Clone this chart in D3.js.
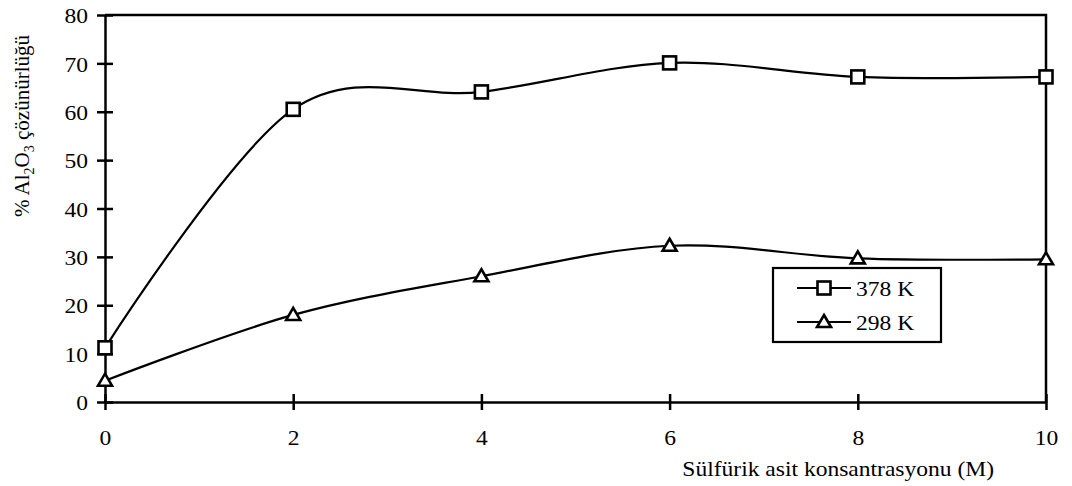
<!DOCTYPE html>
<html>
<head>
<meta charset="utf-8">
<script src="https://cdn.jsdelivr.net/npm/d3@7"></script>
<style>
  html, body { margin: 0; padding: 0; background: #fff; }
  svg text { font-family: "Liberation Serif", serif; fill: #000; }
</style>
</head>
<body>
<svg id="chart" width="1072" height="486" font-family="Liberation Serif"></svg>
<script>
const xValues = [0, 2, 4, 6, 8, 10];
const series378 = [11.2, 60.5, 64.1, 70.1, 67.2, 67.2];
const series298 = [4.4, 18.0, 26.0, 32.3, 29.7, 29.5];
const seriesNames = ["378 K", "298 K"];
const xTicks = [0, 2, 4, 6, 8, 10];
const yTicks = [0, 10, 20, 30, 40, 50, 60, 70, 80];
const xTitle = "Sülfürik asit konsantrasyonu (M)";

const svg = d3.select("#chart");
const pLeft = 105, pRight = 1046, pTop = 15, pBottom = 402;
const FS = 22, SX = 1.07;
const FF = "Liberation Serif";

const x = d3.scaleLinear().domain([0, 10]).range([pLeft, pRight]);
const y = d3.scaleLinear().domain([0, 80]).range([pBottom, pTop]);

// frame (top and right)
svg.append("path")
  .attr("d", `M${pLeft},${pTop}H${pRight}V${pBottom}`)
  .attr("fill", "none").attr("stroke", "#000").attr("stroke-width", 2.5);

// y axis
const yAxis = svg.append("g").attr("transform", `translate(${pLeft},0)`)
  .call(d3.axisLeft(y).tickValues(yTicks).tickSize(8).tickSizeOuter(0).tickFormat(d3.format("d")));
yAxis.select(".domain").attr("stroke-width", 2.5);
yAxis.selectAll(".tick line").attr("x1", 8).attr("x2", -8).attr("stroke-width", 2.5);
yAxis.selectAll(".tick text").remove();
yAxis.selectAll(".tick").append("g")
  .attr("transform", `translate(-17,0) scale(${SX},1)`)
  .append("text").attr("text-anchor", "end").attr("dy", "0.35em")
  .attr("font-family", FF).attr("font-size", FS).text(d => d);

// x axis
const xAxis = svg.append("g").attr("transform", `translate(0,${pBottom})`)
  .call(d3.axisBottom(x).tickValues(xTicks).tickSize(8).tickSizeOuter(0).tickFormat(d3.format("d")));
xAxis.select(".domain").attr("stroke-width", 2.5);
xAxis.selectAll(".tick line").attr("y1", -8).attr("y2", 8).attr("stroke-width", 2.5);
xAxis.selectAll(".tick text").remove();
xAxis.selectAll(".tick").append("g")
  .attr("transform", `translate(0,43) scale(${SX},1)`)
  .append("text").attr("text-anchor", "middle")
  .attr("font-family", FF).attr("font-size", FS).text(d => d);

// x title
svg.append("g").attr("transform", `translate(994,476) scale(${SX},1)`)
  .append("text").attr("text-anchor", "end").attr("font-family", FF).attr("font-size", FS).text(xTitle);

// y title
const yt = svg.append("text")
  .attr("transform", "translate(29,126) rotate(-90)")
  .attr("text-anchor", "middle").attr("font-family", FF).attr("font-size", 21);
yt.append("tspan").text("% Al");
yt.append("tspan").attr("font-size", 14).attr("dy", 5).text("2");
yt.append("tspan").attr("dy", -5).text("O");
yt.append("tspan").attr("font-size", 14).attr("dy", 5).text("3");
yt.append("tspan").attr("dy", -5).text(" çözünürlüğü");

const line = d3.line().x((d, i) => x(xValues[i])).y(d => y(d)).curve(d3.curveCatmullRom.alpha(0));

function square(g, cx, cy) {
  g.append("rect").attr("x", cx - 6.5).attr("y", cy - 6.5).attr("width", 13).attr("height", 13)
    .attr("fill", "#fff").attr("stroke", "#000").attr("stroke-width", 2.6);
}
function triangle(g, cx, cy) {
  g.append("path").attr("d", `M${cx},${cy - 7}L${cx + 7},${cy + 5}L${cx - 7},${cy + 5}Z`)
    .attr("fill", "#fff").attr("stroke", "#000").attr("stroke-width", 2.6).attr("stroke-linejoin", "miter");
}

const lines = svg.append("g");
[series378, series298].forEach(s => {
  lines.append("path").attr("d", line(s)).attr("fill", "none").attr("stroke", "#000").attr("stroke-width", 2.2);
});
const marks = svg.append("g");
series378.forEach((v, i) => square(marks, x(xValues[i]), y(v)));
series298.forEach((v, i) => triangle(marks, x(xValues[i]), y(v)));

// legend
const lg = svg.append("g");
lg.append("rect").attr("x", 773).attr("y", 268).attr("width", 168).attr("height", 74)
  .attr("fill", "#fff").attr("stroke", "#000").attr("stroke-width", 2.2);
const rows = [288, 322];
seriesNames.forEach((name, i) => {
  const cy = rows[i];
  lg.append("line").attr("x1", 797).attr("x2", 851).attr("y1", cy).attr("y2", cy)
    .attr("stroke", "#000").attr("stroke-width", 2.2);
  if (i === 0) square(lg, 824, cy); else triangle(lg, 824, cy);
  lg.append("g").attr("transform", `translate(856,${cy}) scale(${SX},1)`)
    .append("text").attr("dy", "0.35em").attr("font-family", FF).attr("font-size", FS).text(name);
});
</script>
</body>
</html>
